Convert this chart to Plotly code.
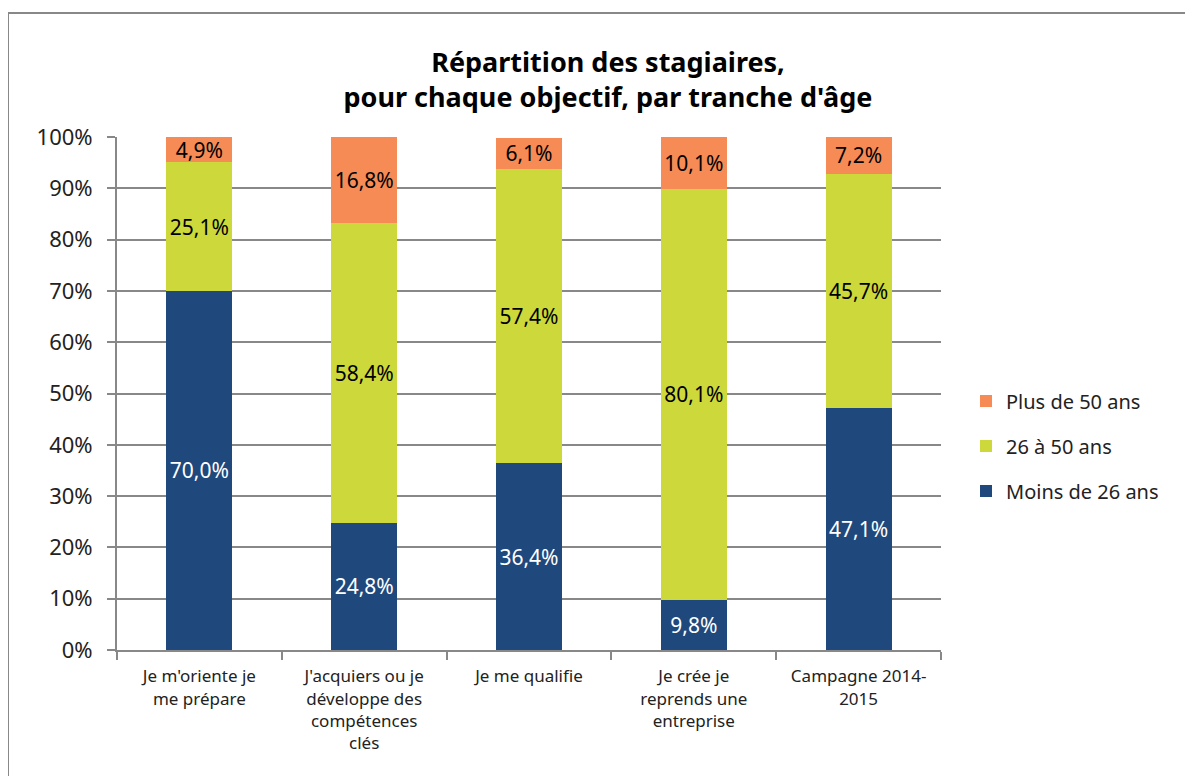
import plotly.graph_objects as go

categories = [
    "Je m'oriente je<br>me prépare",
    "J'acquiers ou je<br>développe des<br>compétences<br>clés",
    "Je me qualifie",
    "Je crée je<br>reprends une<br>entreprise",
    "Campagne 2014-<br>2015",
]
moins_26 = [70.0, 24.8, 36.4, 9.8, 47.1]
de_26_a_50 = [25.1, 58.4, 57.4, 80.1, 45.7]
plus_50 = [4.9, 16.8, 6.1, 10.1, 7.2]
y_ticks = [0, 10, 20, 30, 40, 50, 60, 70, 80, 90, 100]
y_tick_labels = [f"{v}%" for v in y_ticks]

FONT = "Noto Sans"
series = [
    ("Moins de 26 ans", moins_26, "#1F487C", "white", 3),
    ("26 à 50 ans", de_26_a_50, "#CDD83A", "black", 2),
    ("Plus de 50 ans", plus_50, "#F68B55", "black", 1),
]

fig = go.Figure()
for name, vals, color, tcolor, rank in series:
    fig.add_trace(go.Bar(
        x=categories, y=vals, name=name, legendgroup=name, legendrank=rank,
        marker=dict(color=color, line=dict(width=0)),
        texttemplate="%{y:.1f}%", textposition="inside",
        insidetextanchor="middle", textangle=0,
        textfont=dict(family=FONT, size=21, color=tcolor),
        constraintext="none",
    ))

OFF = 8  # page body margin
W, H = 1193, 776
l, r, t, b = 117 - OFF, 252 + OFF, 137 - OFF, 126 + OFF
pw, ph = W - l - r, H - t - b

fig.update_layout(
    width=W, height=H,
    barmode="stack", bargap=0.6,
    separators=", ",
    margin=dict(l=l, r=r, t=t, b=b),
    paper_bgcolor="white", plot_bgcolor="white",
    font=dict(family=FONT, color="#222"),
    uniformtext=dict(minsize=21, mode="show"),
    title=dict(
        text="<b>Répartition des stagiaires,<br>pour chaque objectif, par tranche d'âge</b>",
        x=(608 - 117) / pw, xref="paper", xanchor="center",
        y=1 - (71.5 - OFF) / H, yref="container", yanchor="middle",
        font=dict(family=FONT, size=27, color="black"),
    ),
    legend=dict(
        x=(966 - 117) / pw, xanchor="left",
        y=(650 - 446) / ph, yanchor="middle",
        traceorder="grouped",
        font=dict(family=FONT, size=20, color="#222"),
        itemwidth=30, tracegroupgap=16,
    ),
    xaxis=dict(
        showline=True, linecolor="#888", linewidth=2,
        ticks="outside", tickson="boundaries", ticklen=8, tickcolor="#888", tickwidth=2,
        tickfont=dict(family=FONT, size=17, color="#222"),
        ticklabelstandoff=10,
        showgrid=False,
    ),
    yaxis=dict(
        range=[0, 100], tickvals=y_ticks, ticktext=y_tick_labels,
        showline=True, linecolor="#888", linewidth=2,
        ticks="outside", ticklen=8, tickcolor="#888", tickwidth=2,
        showgrid=True, gridcolor="#888", gridwidth=1.5,
        tickfont=dict(family=FONT, size=22, color="#222"),
        ticklabelstandoff=10,
        zeroline=False,
    ),
    shapes=[dict(
        type="rect", xref="paper", yref="paper",
        x0=(8 - 117) / pw, x1=(1210 - 117) / pw,
        y0=(650 - 800) / ph, y1=(650 - 13) / ph,
        line=dict(color="#888", width=2), fillcolor="rgba(0,0,0,0)", layer="below",
    )],
)

fig.write_html("out.html")
